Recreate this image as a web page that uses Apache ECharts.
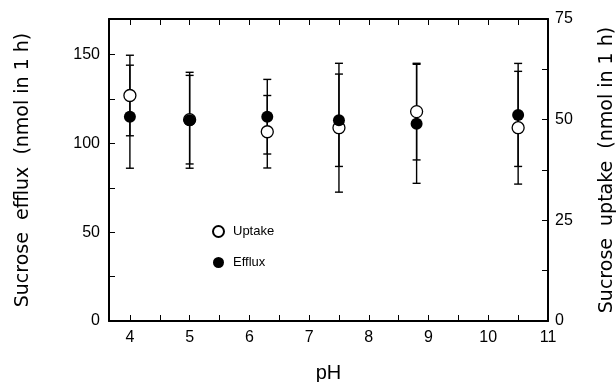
<!DOCTYPE html>
<html lang="en">
<head>
    <meta charset="utf-8">
    <title>Sucrose efflux / uptake vs pH</title>
    <script src="https://cdn.jsdelivr.net/npm/echarts@6/dist/echarts.min.js"></script>
    <style type="text/css">
        html, body { margin: 0; padding: 0; background: #ffffff; }
        #main { width: 616px; height: 382px; }
    </style>
</head>
<body>
<div id="main"></div>
<script type="text/javascript">
    // values
    const phValues = [4, 5, 6.3, 7.5, 8.8, 10.5];
    const effluxMean = [115, 113, 115, 113, 111, 116];
    const effluxErr = [29, 27, 21, 26, 33.5, 29];
    const uptakeMean = [56, 50, 47, 48, 52, 48];
    const uptakeErr = [10, 11, 9, 16, 12, 14];

    const xLabels = [4, 5, 6, 7, 8, 9, 10, 11];
    const xTicks = [4, 4.5, 5, 5.5, 6, 6.5, 7, 7.5, 8, 8.5, 9, 9.5, 10, 10.5, 11];

    const font = 'Liberation Sans, Arial, sans-serif';
    const nameFont = 'DejaVu Sans, sans-serif';
    let chart = echarts.init(document.getElementById('main'), null, {renderer: 'canvas'});

    function pairs(xs, ys) {
        return xs.map(function (x, i) { return [x, ys[i]]; });
    }
    function bars(xs, ys, es) {
        return xs.map(function (x, i) { return [x, ys[i] - es[i], ys[i] + es[i]]; });
    }

    // vertical error bar with small caps
    function renderBar(params, api) {
        let lo = api.coord([api.value(0), api.value(1)]);
        let hi = api.coord([api.value(0), api.value(2)]);
        let w = 4;
        let st = {stroke: '#000', lineWidth: 1.4};
        return {
            type: 'group',
            children: [
                {type: 'line', shape: {x1: lo[0], y1: lo[1], x2: hi[0], y2: hi[1]}, style: st},
                {type: 'line', shape: {x1: lo[0] - w, y1: lo[1], x2: lo[0] + w, y2: lo[1]}, style: st},
                {type: 'line', shape: {x1: hi[0] - w, y1: hi[1], x2: hi[0] + w, y2: hi[1]}, style: st}
            ]
        };
    }

    const axisLine = {show: true, onZero: false, lineStyle: {color: '#000', width: 2}};

    let option = {
        backgroundColor: '#ffffff',
        animation: false,
        grid: {left: 109, right: 68, top: 19, bottom: 61, outerBoundsMode: 'none'},
        legend: {
            orient: 'vertical',
            left: 207,
            top: 220,
            itemWidth: 11,
            itemHeight: 11,
            itemGap: 18,
            data: ['Uptake', 'Efflux'],
            textStyle: {fontFamily: font, fontSize: 13, color: '#000', padding: [0, 0, 0, 4]}
        },
        xAxis: [{
            type: 'value',
            min: 3.65,
            max: 11,
            name: 'pH',
            nameLocation: 'middle',
            nameGap: 42,
            nameTextStyle: {fontFamily: font, fontSize: 20, color: '#000'},
            axisLine: axisLine,
            axisTick: {inside: true, length: 6, customValues: xTicks, lineStyle: {color: '#000'}},
            axisLabel: {customValues: xLabels, margin: 9, fontFamily: font, fontSize: 16, color: '#000'},
            splitLine: {show: false}
        }, {
            type: 'value',
            position: 'top',
            min: 3.65,
            max: 11,
            axisLine: axisLine,
            axisTick: {inside: true, length: 6, customValues: xTicks, lineStyle: {color: '#000'}},
            axisLabel: {show: false},
            splitLine: {show: false}
        }],
        yAxis: [{
            type: 'value',
            min: 0,
            max: 170,
            interval: 25,
            name: 'Sucrose  efflux  (nmol in 1 h)',
            nameLocation: 'middle',
            nameRotate: 90,
            nameGap: 76,
            nameTextStyle: {fontFamily: nameFont, fontSize: 19, color: '#000'},
            axisLine: axisLine,
            axisTick: {inside: true, length: 6, lineStyle: {color: '#000'}},
            axisLabel: {
                margin: 9, fontFamily: font, fontSize: 16, color: '#000', showMaxLabel: false,
                formatter: function (v) { return v % 50 === 0 ? String(v) : ''; }
            },
            splitLine: {show: false}
        }, {
            type: 'value',
            position: 'right',
            min: 0,
            max: 75,
            interval: 12.5,
            name: 'Sucrose  uptake  (nmol in 1 h)',
            nameLocation: 'middle',
            nameRotate: 90,
            nameGap: 50,
            nameTextStyle: {fontFamily: nameFont, fontSize: 19, color: '#000'},
            axisLine: axisLine,
            axisTick: {inside: true, length: 6, lineStyle: {color: '#000'}},
            axisLabel: {
                margin: 7, fontFamily: font, fontSize: 16, color: '#000',
                formatter: function (v) { return v % 25 === 0 ? String(v) : ''; }
            },
            splitLine: {show: false}
        }],
        series: [{
            name: 'uptakeErr',
            type: 'custom',
            yAxisIndex: 1,
            renderItem: renderBar,
            data: bars(phValues, uptakeMean, uptakeErr),
            z: 2
        }, {
            name: 'effluxErr',
            type: 'custom',
            yAxisIndex: 0,
            renderItem: renderBar,
            data: bars(phValues, effluxMean, effluxErr),
            z: 2
        }, {
            name: 'Uptake',
            type: 'scatter',
            yAxisIndex: 1,
            symbol: 'circle',
            symbolSize: 12,
            itemStyle: {color: '#ffffff', borderColor: '#000', borderWidth: 1.3, opacity: 1},
            data: pairs(phValues, uptakeMean),
            z: 3
        }, {
            name: 'Efflux',
            type: 'scatter',
            yAxisIndex: 0,
            symbol: 'circle',
            symbolSize: 12,
            itemStyle: {color: '#000', opacity: 1},
            data: pairs(phValues, effluxMean),
            z: 4
        }]
    };
    chart.setOption(option);
</script>
</body>
</html>
